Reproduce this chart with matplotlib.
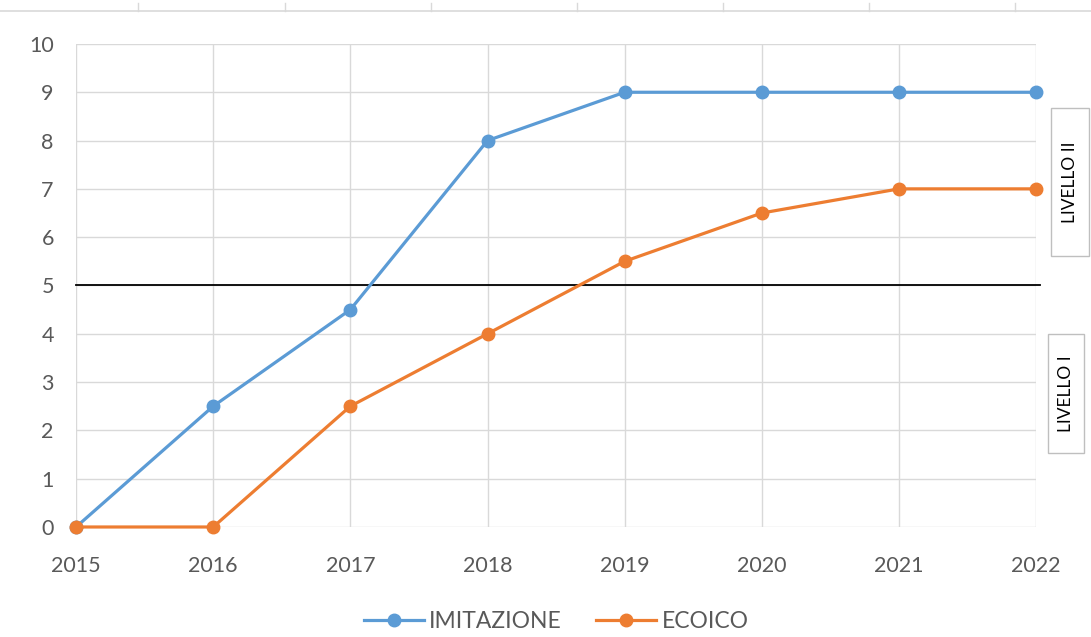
import matplotlib
matplotlib.use('Agg')
import matplotlib.pyplot as plt
from matplotlib.lines import Line2D
from matplotlib.patches import Rectangle

years = [2015, 2016, 2017, 2018, 2019, 2020, 2021, 2022]
imitazione = [0, 2.5, 4.5, 8, 9, 9, 9, 9]
ecoico = [0, 0, 2.5, 4, 5.5, 6.5, 7, 7]
soglia = 5
yticks = list(range(0, 11))

blue = '#5B9BD5'
orange = '#ED7D31'
grey = '#595959'

plt.rcParams['font.family'] = ['Lato', 'DejaVu Sans']

W, H = 1091, 637
fig = plt.figure(figsize=(W / 100, H / 100), dpi=100)
ax = fig.add_axes([0.0697, 0.1727, 0.88, 0.7583])

ax.plot(years, imitazione, color=blue, lw=2.3, marker='o', ms=9, clip_on=False, zorder=4, label='IMITAZIONE')
ax.plot(years, ecoico, color=orange, lw=2.3, marker='o', ms=9, clip_on=False, zorder=5, label='ECOICO')
ax.plot([years[0], years[-1] + 0.03], [soglia, soglia], color='black', lw=1.3, clip_on=False, zorder=3)

ax.set_xlim(years[0], years[-1])
ax.set_ylim(0, 10)
ax.set_xticks(years)
ax.set_yticks(yticks)
ax.grid(True, color='#D9D9D9', lw=1)
ax.set_axisbelow(True)
for s in ax.spines.values():
    s.set_visible(False)
ax.tick_params(length=0, labelsize=15.5, colors=grey)
ax.tick_params(axis='x', pad=21)
ax.tick_params(axis='y', pad=16)

# side labels with boxes (pixel boxes)
def side_box(x0, y0, x1, y1, label):
    fig.add_artist(Rectangle((x0 / W, 1 - y1 / H), (x1 - x0) / W, (y1 - y0) / H,
                             transform=fig.transFigure, fc='white', ec='#BFBFBF', lw=1))
    fig.text((x0 + x1) / 2 / W, 1 - (y0 + y1) / 2 / H, label, rotation=90, ha='center', va='center',
             fontsize=12.5, color='black')

side_box(1051, 108, 1089, 256, 'LIVELLO II')
side_box(1048, 334, 1084, 453, 'LIVELLO I')

# faint top rule with ticks
fig.add_artist(Line2D([0, 1], [0.983, 0.983], color='#D9D9D9', lw=1.2))
for x in [138, 285, 431, 577, 723, 869, 1015]:
    fig.add_artist(Line2D([x / W, x / W], [0.983, 0.995], color='#D9D9D9', lw=1))

handles = [Line2D([0], [0], color=blue, lw=2.3, marker='o', ms=9),
           Line2D([0], [0], color=orange, lw=2.3, marker='o', ms=9)]
leg = fig.legend(handles, ['IMITAZIONE', 'ECOICO'], loc='center', bbox_to_anchor=(0.51, 0.024), ncol=2,
                 frameon=False, fontsize=16.5, handlelength=2.6, columnspacing=1.5, handletextpad=0.25)
for t in leg.get_texts():
    t.set_color(grey)

fig.savefig('out.png', dpi=100)
